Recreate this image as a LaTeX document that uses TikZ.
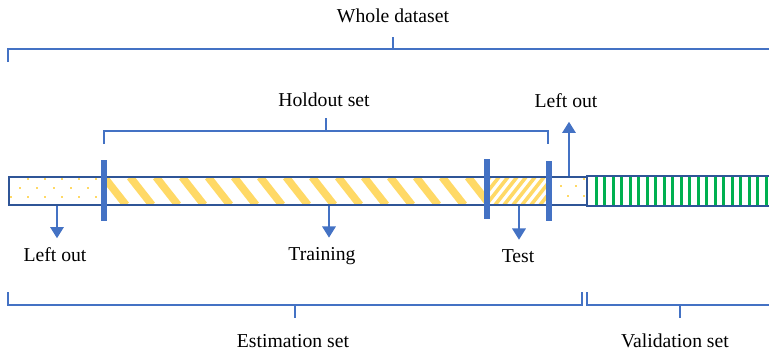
\documentclass[tikz,border=0pt]{standalone}
\usepackage{fontspec}
\setmainfont{Liberation Serif}
\usetikzlibrary{arrows.meta}
\definecolor{lineblue}{RGB}{68,114,196}
\definecolor{barblue}{RGB}{47,85,151}
\definecolor{stripey}{RGB}{255,217,102}
\definecolor{stripeg}{RGB}{0,176,80}
\begin{document}
\begin{tikzpicture}[x=0.25mm, y=-0.25mm, every node/.style={font=\fontsize{14}{16}\selectfont},
  brk/.style={lineblue, line width=0.9pt},
  cut/.style={lineblue, line width=3.6pt},
  arr/.style={lineblue, line width=1pt, -{Triangle[width=3.4mm,length=2.8mm]}},
  box/.style={barblue, line width=1.4pt}]
  \useasboundingbox (0,0) rectangle (769,355);
  % fills of the bar
  \foreach \y/\xs in {179/{28,45,62,79,96}, 188/{20,37,54,71,88}, 197/{11,28,45,62,79,96}}
    \foreach \x in \xs \fill[stripey] (\x-1.2,\y-1.2) rectangle ++(2.4,2.4);
  \foreach \x/\y in {561/186, 576/186, 568/196, 584/196, 584/179}
    \fill[stripey] (\x-1.2,\y-1.2) rectangle ++(2.4,2.4);
  \begin{scope}
    \clip (104,177) rectangle (487,205);
    \foreach \x in {78,104,...,500} \draw[stripey, line width=1.9mm] (\x,177) -- ++(22,28);
  \end{scope}
  \begin{scope}
    \clip (487,177) rectangle (549,205);
    \foreach \x in {468,477,...,560} \draw[stripey, line width=0.9mm] (\x,205) -- ++(22,-28);
  \end{scope}
  \foreach \x in {596,604.5,...,770} \fill[stripeg] (\x-1.5,177) rectangle ++(3,28);
  \draw[box] (9,177) rectangle (587,205);
  \draw[box] (587,176) rectangle (775,206);
  \draw[cut] (104,160) -- (104,221);
  \draw[cut] (487,159) -- (487,219);
  \draw[cut] (549,161) -- (549,221);
  % labels
  \node (whole) at (393,16) {Whole dataset};
  \node (hold) at (324,100) {Holdout set};
  \node (lotop) at (566,101) {Left out};
  \node (lobot) at (55,255) {Left out};
  \node (train) at (322,256) {Training};
  \node (test) at (518,256) {Test};
  \node (est) at (293,341) {Estimation set};
  \node (val) at (675,341) {Validation set};
  % brackets
  \draw[brk] (8,62) |- (775,49);
  \draw[brk] (393,49) -- (393,37);
  \draw[brk] (104,144) |- (548,131) -- (548,144);
  \draw[brk] (326,131) -- (326,118);
  \draw[brk] (8,292) |- (582,305) -- (582,292);
  \draw[brk] (295,305) -- (295,318);
  \draw[brk] (587,292) |- (775,305);
  \draw[brk] (680,305) -- (680,318);
  % arrows
  \coordinate (lo1) at (57,206);
  \coordinate (trn) at (329,206);
  \coordinate (tst) at (519,206);
  \coordinate (lo2) at (569,176);
  \draw[arr, shorten >=1.2mm] (lo1) -- (lo1 |- lobot.north);
  \draw[arr, shorten >=1.2mm] (trn) -- (trn |- train.north);
  \draw[arr, shorten >=1.2mm] (tst) -- (tst |- test.north);
  \draw[arr, shorten >=2.2mm] (lo2) -- (lo2 |- lotop.south);
\end{tikzpicture}
\end{document}
